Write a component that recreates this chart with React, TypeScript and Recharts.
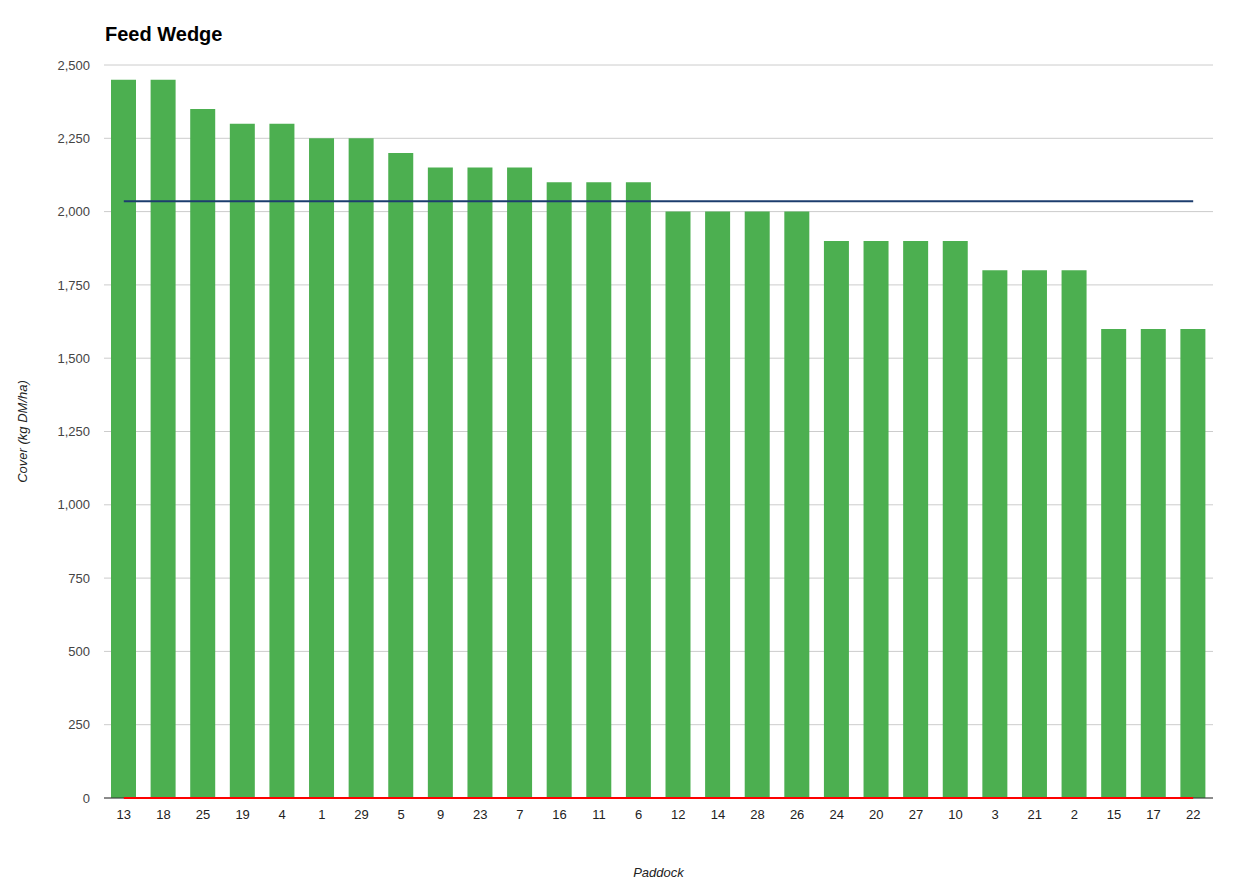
import React from "react";
import {
  ComposedChart,
  Bar,
  Line,
  XAxis,
  YAxis,
  CartesianGrid,
} from "recharts";

const paddocks = [
  "13", "18", "25", "19", "4", "1", "29", "5", "9", "23", "7", "16", "11", "6",
  "12", "14", "28", "26", "24", "20", "27", "10", "3", "21", "2", "15", "17", "22",
];

const cover = [
  2450, 2450, 2350, 2300, 2300, 2250, 2250, 2200, 2150, 2150, 2150, 2100, 2100, 2100,
  2000, 2000, 2000, 2000, 1900, 1900, 1900, 1900, 1800, 1800, 1800, 1600, 1600, 1600,
];

const averageCover = [
  2035, 2035, 2035, 2035, 2035, 2035, 2035, 2035, 2035, 2035, 2035, 2035, 2035, 2035,
  2035, 2035, 2035, 2035, 2035, 2035, 2035, 2035, 2035, 2035, 2035, 2035, 2035, 2035,
];

const baseline = [
  0, 0, 0, 0, 0, 0, 0, 0, 0, 0, 0, 0, 0, 0,
  0, 0, 0, 0, 0, 0, 0, 0, 0, 0, 0, 0, 0, 0,
];

const yTicks = [0, 250, 500, 750, 1000, 1250, 1500, 1750, 2000, 2250, 2500];

const data = paddocks.map((p, i) => ({
  paddock: p,
  cover: cover[i],
  average: averageCover[i],
  baseline: baseline[i],
}));

const FONT = "'Liberation Sans', Arial, Helvetica, sans-serif";

const fmt = (v: number) => v.toLocaleString("en-US");

const YLabel = (props: any) => {
  const vb = props.viewBox || {};
  const cx = 22;
  const cy = vb.y + vb.height / 2;
  return (
    <text
      x={cx}
      y={cy}
      transform={`rotate(-90, ${cx}, ${cy})`}
      textAnchor="middle"
      dominantBaseline="central"
      fontFamily={FONT}
      fontSize={13}
      fontStyle="italic"
      fill="#222"
    >
      Cover (kg DM/ha)
    </text>
  );
};

const XLabel = (props: any) => {
  const vb = props.viewBox || {};
  const cx = vb.x + vb.width / 2;
  return (
    <text
      x={cx}
      y={877}
      textAnchor="middle"
      fontFamily={FONT}
      fontSize={13}
      fontStyle="italic"
      fill="#222"
    >
      Paddock
    </text>
  );
};

export default function App() {
  return (
    <div
      style={{
        position: "absolute",
        left: 0,
        top: 0,
        width: 1246,
        height: 891,
        background: "#fff",
        fontFamily: FONT,
      }}
    >
      <div
        style={{
          position: "absolute",
          left: 105,
          top: 22,
          fontSize: 20,
          fontWeight: "bold",
          color: "#000",
          fontFamily: FONT,
          lineHeight: "24px",
        }}
      >
        Feed Wedge
      </div>
      <ComposedChart
        width={1246}
        height={891}
        data={data}
        margin={{ top: 65, right: 33, bottom: 0, left: 0 }}
      >
        <CartesianGrid vertical={false} stroke="#cccccc" />
        <XAxis
          dataKey="paddock"
          height={93}
          interval={0}
          tickLine={false}
          tickSize={0}
          tickMargin={12}
          axisLine={{ stroke: "#333333" }}
          tick={{ fontFamily: FONT, fontSize: 13, fill: "#222" }}
          label={<XLabel />}
        />
        <YAxis
          width={104}
          domain={[0, 2500]}
          ticks={yTicks}
          tickFormatter={fmt}
          axisLine={false}
          tickLine={false}
          tickSize={0}
          tickMargin={14}
          tick={{ fontFamily: FONT, fontSize: 13, fill: "#444" }}
          label={<YLabel />}
        />
        <Bar
          dataKey="cover"
          fill="#4caf50"
          barSize={25}
          isAnimationActive={false}
        />
        <Line
          dataKey="average"
          stroke="#1c3d6e"
          strokeWidth={2}
          dot={false}
          activeDot={false}
          isAnimationActive={false}
        />
        <Line
          dataKey="baseline"
          stroke="#ff0000"
          strokeWidth={2}
          dot={false}
          activeDot={false}
          isAnimationActive={false}
          {...({ zIndex: 700 } as any)}
        />
      </ComposedChart>
    </div>
  );
}
